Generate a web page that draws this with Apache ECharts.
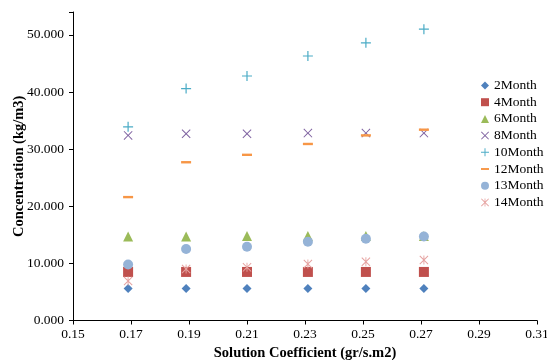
<!DOCTYPE html>
<html><head><meta charset="utf-8">
<script src="https://cdn.jsdelivr.net/npm/echarts@6/dist/echarts.min.js"></script>
<style>html,body{margin:0;padding:0;background:#fff}#c{width:547px;height:360px}</style>
</head><body><div id="c"></div>
<script>
const xValues = [0.169, 0.189, 0.21, 0.231, 0.251, 0.271];
const seriesNames = ['2Month','4Month','6Month','8Month','10Month','12Month','13Month','14Month'];
const m2  = [5.6, 5.6, 5.6, 5.6, 5.6, 5.6];
const m4  = [8.5, 8.5, 8.5, 8.5, 8.5, 8.5];
const m6  = [14.7, 14.7, 14.8, 14.8, 14.8, 14.8];
const m8  = [32.4, 32.7, 32.7, 32.8, 32.8, 32.8];
const m10 = [33.9, 40.6, 42.8, 46.3, 48.6, 51.0];
const m12 = [21.6, 27.7, 29.0, 30.9, 32.4, 33.4];
const m13 = [9.8, 12.5, 12.9, 13.8, 14.3, 14.7];
const m14 = [6.9, 9.0, 9.3, 9.9, 10.3, 10.6];
const yTicks = [0, 10, 20, 30, 40, 50];

const plusPath = 'path://M4.4,0H5.6V4.4H10V5.6H5.6V10H4.4V5.6H0V4.4H4.4Z';
const xPath = 'path://M0,0.8L0.8,0L5,4.2L9.2,0L10,0.8L5.8,5L10,9.2L9.2,10L5,5.8L0.8,10L0,9.2L4.2,5Z';
const starPath = 'path://M0,0.8L0.8,0L5,4.2L9.2,0L10,0.8L5.8,5L10,9.2L9.2,10L5,5.8L0.8,10L0,9.2L4.2,5ZM4.5,0H5.5V10H4.5Z';
const dashPath = 'path://M0,0H10V2.4H0Z';

const allData = [m2, m4, m6, m8, m10, m12, m13, m14];
const symbols = ['diamond','rect','triangle', xPath, plusPath, dashPath,'circle', starPath];
const sizes = [9, 10, 10, 9, 10, 10, 10, 9];
const colors = ['#4F81BD','#C0504D','#9BBB59','#8064A2','#4BACC6','#F79646','#95B3D7','#E6A3A1'];

const series = seriesNames.map((n, i) => ({
  name: n,
  type: 'scatter',
  symbol: symbols[i],
  symbolSize: sizes[i],
  symbolKeepAspect: true,
  itemStyle: { color: colors[i], opacity: 1 },
  data: xValues.map((x, j) => [x, allData[i][j]]),
  z: 2 + i
}));

const serif = '"Liberation Serif", "Times New Roman", serif';
const chart = echarts.init(document.getElementById('c'), null, { renderer: 'canvas' });
chart.setOption({
  animation: false,
  backgroundColor: '#fff',
  color: colors,
  grid: { left: 73, right: 10, top: 12, bottom: 39.5, containLabel: false, outerBoundsMode: 'none' },
  xAxis: {
    type: 'value', min: 0.15, max: 0.31, interval: 0.02,
    name: 'Solution Coefficient (gr/s.m2)', nameLocation: 'middle', nameGap: 25, nameMoveOverlap: false,
    nameTextStyle: { fontFamily: serif, fontWeight: 'bold', fontSize: 14.5, color: '#000' },
    axisLine: { show: true, onZero: false, lineStyle: { color: '#000', width: 1 } },
    axisTick: { show: true, length: 4, lineStyle: { color: '#000' } },
    axisLabel: { fontFamily: serif, fontSize: 13.5, color: '#000', margin: 7, formatter: v => v.toFixed(2) },
    splitLine: { show: false }
  },
  yAxis: {
    type: 'value', min: 0, max: 54, interval: 10,
    name: 'Concentration (kg/m3)', nameLocation: 'middle', nameGap: 46.5, nameRotate: 90, nameMoveOverlap: false,
    nameTextStyle: { fontFamily: serif, fontWeight: 'bold', fontSize: 14.5, color: '#000' },
    axisLine: { show: true, onZero: false, lineStyle: { color: '#000', width: 1 } },
    axisTick: { show: true, length: 4, lineStyle: { color: '#000' } },
    axisLabel: { fontFamily: serif, fontSize: 13.5, color: '#000', margin: 9,
      formatter: v => (Math.abs(v - Math.round(v)) < 1e-6 && yTicks.indexOf(Math.round(v)) >= 0) ? v.toFixed(3) : '' },
    splitLine: { show: false }
  },
  legend: {
    orient: 'vertical', left: 476, top: 73,
    itemWidth: 8, itemHeight: 8, itemGap: 1.7,
    textStyle: { fontFamily: serif, fontSize: 13.5, color: '#000', lineHeight: 15 },
    data: seriesNames
  },
  series: series
});
</script></body></html>
